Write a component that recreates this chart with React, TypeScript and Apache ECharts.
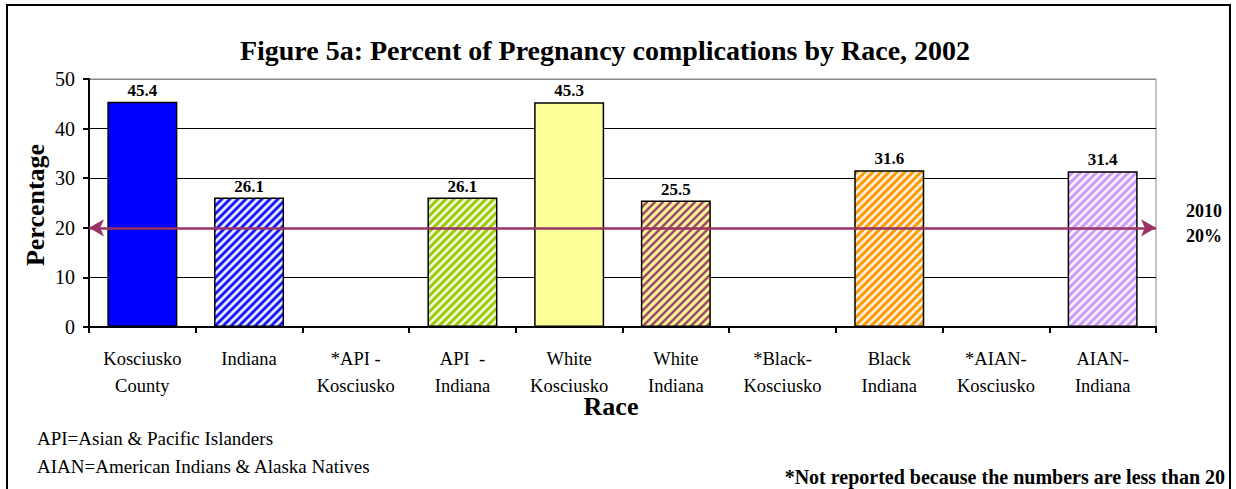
import React, { useEffect, useRef } from "react";
import * as echarts from "echarts";

const categories = [
  "Kosciusko\nCounty",
  "Indiana",
  "*API -\nKosciusko",
  "API  -\nIndiana",
  "White\nKosciusko",
  "White\nIndiana",
  "*Black-\nKosciusko",
  "Black\nIndiana",
  "*AIAN-\nKosciusko",
  "AIAN-\nIndiana",
];
const percentValues: (number | null)[] = [45.4, 26.1, null, 26.1, 45.3, 25.5, null, 31.6, null, 31.4];
const targetValue = 20;
const yTicks = [0, 10, 20, 30, 40, 50];
const titleText = "Figure 5a: Percent of Pregnancy complications by Race, 2002";
const yName = "Percentage";
const xName = "Race";
const footnotes = ["API=Asian & Pacific Islanders", "AIAN=American Indians & Alaska Natives"];
const noteText = "*Not reported because the numbers are less than 20";
const targetLabel = ["2010", "20%"];

// fill styles per category: [background, stripe colour or null for solid, stripe sharpness]
const fills: [string, string | null, number][] = [
  ["#0000FF", null, 1],
  ["#0000FF", "#FFFFFF", 1],
  ["#FFFFFF", null, 1],
  ["#99CC00", "#FFFFFF", 1.6],
  ["#FFFF99", null, 1],
  ["#FFFF99", "#993366", 1.5],
  ["#FFFFFF", null, 1],
  ["#FF9900", "#FFFFFF", 1.6],
  ["#FFFFFF", null, 1],
  ["#CC99FF", "#FFFFFF", 1.6],
];

const FONT = '"Liberation Serif", "Times New Roman", serif';

function hexToRgb(h: string) {
  const v = parseInt(h.slice(1), 16);
  return [(v >> 16) & 255, (v >> 8) & 255, v & 255];
}

function stripePattern(bg: string, fg: string, p: number, power: number) {
  const c = document.createElement("canvas");
  c.width = p;
  c.height = p;
  const ctx = c.getContext("2d")!;
  const img = ctx.createImageData(p, p);
  const b = hexToRgb(bg);
  const f = hexToRgb(fg);
  for (let y = 0; y < p; y++) {
    for (let x = 0; x < p; x++) {
      const t = ((x + y) % p) / p;
      let w = 0.5 + 0.5 * Math.cos(2 * Math.PI * t);
      w = Math.pow(w, power);
      const i = (y * p + x) * 4;
      img.data[i] = Math.round(b[0] * (1 - w) + f[0] * w);
      img.data[i + 1] = Math.round(b[1] * (1 - w) + f[1] * w);
      img.data[i + 2] = Math.round(b[2] * (1 - w) + f[2] * w);
      img.data[i + 3] = 255;
    }
  }
  ctx.putImageData(img, 0, 0);
  return c;
}

export default function App() {
  const ref = useRef<HTMLDivElement>(null);
  useEffect(() => {
    document.body.style.margin = "0";
    const chart = echarts.init(ref.current!, null, { renderer: "svg" });
    const data = percentValues.map((v, i) => {
      const [bg, fg, sharp] = fills[i];
      const color: any = fg ? { image: stripePattern(bg, fg, 8, sharp), repeat: "repeat" } : bg;
      return {
        value: v === null ? "-" : v,
        itemStyle: { color, borderColor: "#000", borderWidth: 1.5 },
      };
    });
    const option: any = {
      animation: false,
      title: {
        text: titleText,
        left: 600,
        textAlign: "center",
        top: 31,
        textStyle: { fontFamily: FONT, fontSize: 28, fontWeight: "bold", color: "#000" },
      },
      grid: {
        left: 89,
        right: 80,
        top: 79,
        bottom: 162,
        show: true,
        borderColor: "#888",
        borderWidth: 1,
        backgroundColor: "transparent",
      },
      xAxis: {
        type: "category",
        data: categories,
        axisLine: { lineStyle: { color: "#000", width: 2 } },
        axisTick: { show: true, alignWithLabel: false, length: 6, lineStyle: { color: "#000", width: 2 } },
        axisLabel: {
          interval: 0,
          color: "#000",
          fontFamily: FONT,
          fontSize: 18.5,
          lineHeight: 27,
          margin: 18,
        },
      },
      yAxis: {
        type: "value",
        min: yTicks[0],
        max: yTicks[yTicks.length - 1],
        interval: yTicks[1] - yTicks[0],
        axisLine: { show: true, lineStyle: { color: "#000", width: 2 } },
        axisTick: { show: true, length: 6, lineStyle: { color: "#000", width: 2 } },
        axisLabel: { color: "#000", fontFamily: FONT, fontSize: 20, margin: 14 },
        splitLine: {
          show: true,
          lineStyle: { color: ["#000", "#000", "#000", "#000", "#000", "#888"], width: 1.2 },
        },
      },
      series: [
        {
          type: "bar",
          data,
          barWidth: 70,
          label: {
            show: true,
            position: "top",
            distance: 3,
            color: "#000",
            fontFamily: FONT,
            fontWeight: "bold",
            fontSize: 17,
            formatter: (p: any) => Number(p.value).toFixed(1),
          },
          markLine: {
            silent: true,
            symbol: ["arrow", "arrow"],
            symbolSize: [13, 15],
            label: { show: false },
            lineStyle: { color: "#993366", width: 2.5, type: "solid" },
            data: [{ yAxis: targetValue }],
          },
        },
      ],
      graphic: [
        {
          type: "rect",
          shape: { x: 7, y: 5, width: 1223, height: 540 },
          style: { fill: "none", stroke: "#000", lineWidth: 2 },
          silent: true,
        },
        {
          type: "text",
          x: 35,
          y: 205,
          rotation: Math.PI / 2,
          style: {
            text: yName,
            fontFamily: FONT,
            fontSize: 26,
            fontWeight: "bold",
            fill: "#000",
            align: "center",
            verticalAlign: "middle",
          },
        },
        {
          type: "text",
          x: 611,
          y: 406,
          style: {
            text: xName,
            fontFamily: FONT,
            fontSize: 26,
            fontWeight: "bold",
            fill: "#000",
            align: "center",
            verticalAlign: "middle",
          },
        },
        ...footnotes.map((t, i) => ({
          type: "text",
          x: 37,
          y: 438 + i * 28,
          style: {
            text: t,
            fontFamily: FONT,
            fontSize: 19,
            fill: "#000",
            align: "left",
            verticalAlign: "middle",
          },
        })),
        {
          type: "text",
          x: 1225,
          y: 477,
          style: {
            text: noteText,
            fontFamily: FONT,
            fontSize: 20,
            fontWeight: "bold",
            fill: "#000",
            align: "right",
            verticalAlign: "middle",
          },
        },
        ...targetLabel.map((t, i) => ({
          type: "text",
          x: 1204,
          y: 211 + i * 25,
          style: {
            text: t,
            fontFamily: FONT,
            fontSize: 18,
            fontWeight: "bold",
            fill: "#000",
            align: "center",
            verticalAlign: "middle",
          },
        })),
      ],
    };
    chart.setOption(option);
    return () => chart.dispose();
  }, []);
  return <div ref={ref} style={{ width: 1236, height: 489 }} />;
}
